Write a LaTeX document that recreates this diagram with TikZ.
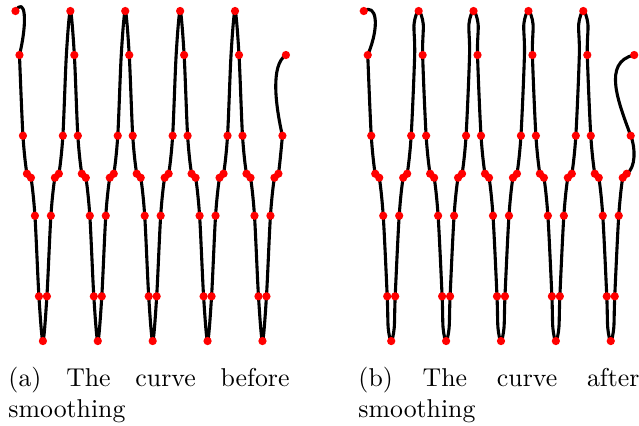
\documentclass[tikz,border=0pt]{standalone}

\begin{document}
\begin{tikzpicture}[x=0.3868pt,y=-0.3876pt,
  curve/.style={line width=1.2pt,line join=round},
  dot/.style={fill=red},
  subcap/.style={anchor=north west,inner sep=0pt,text width=108.9pt,align=justify}]
  \useasboundingbox (0,0) rectangle (640.3,425);
  % (a) before
  \draw[curve] (15.5,11) .. controls (25,-4) and (28,20) .. (19.5,55);
  \draw[curve] plot[smooth,tension=0.5] coordinates {(19.5,55) (23,135.7) (27,173.7) (31,177.7) (35,215.7) (39,296.3) (43,341) (47,296.3) (51,215.7) (55,177.7) (59,173.7) (63,135.7) (66.5,55) (70.5,11) (74.5,55)
    (78,135.7) (82,173.7) (86,177.7) (90,215.7) (94,296.3) (98,341) (102,296.3) (106,215.7) (110,177.7) (114,173.7) (118,135.7) (121.5,55) (125.5,11) (129.5,55)
    (133,135.7) (137,173.7) (141,177.7) (145,215.7) (149,296.3) (153,341) (157,296.3) (161,215.7) (165,177.7) (169,173.7) (173,135.7) (176.5,55) (180.5,11) (184.5,55)
    (188,135.7) (192,173.7) (196,177.7) (200,215.7) (204,296.3) (208,341) (212,296.3) (216,215.7) (220,177.7) (224,173.7) (228,135.7) (231.5,55) (235.5,11) (239.5,55)
    (243,135.7) (247,173.7) (251,177.7) (255,215.7) (259,296.3) (263,341) (267,296.3) (271,215.7) (275,177.7) (279,173.7) (283,135.7)};
  \draw[curve] (283,135.7) .. controls (276,105) and (271,65) .. (286.5,55);
  % (b) after
  \begin{scope}[shift={(349,0)}]
    \draw[curve] (15.5,11) .. controls (28,3) and (32,25) .. (19.5,55);
    \draw[curve] plot[smooth,tension=0.5] coordinates {(19.5,55) (23,135.7) (27,173.7) (31,177.7) (35,215.7) (39,296.3) (40,328) (43,341.5) (46,328) (47,296.3) (51,215.7) (55,177.7) (59,173.7) (63,135.7) (66.5,55) (65.9,24) (70.5,10.5) (75.1,24) (74.5,55)
      (78,135.7) (82,173.7) (86,177.7) (90,215.7) (94,296.3) (95,328) (98,341.5) (101,328) (102,296.3) (106,215.7) (110,177.7) (114,173.7) (118,135.7) (121.5,55) (120.9,24) (125.5,10.5) (130.1,24) (129.5,55)
      (133,135.7) (137,173.7) (141,177.7) (145,215.7) (149,296.3) (150,328) (153,341.5) (156,328) (157,296.3) (161,215.7) (165,177.7) (169,173.7) (173,135.7) (176.5,55) (175.9,24) (180.5,10.5) (185.1,24) (184.5,55)
      (188,135.7) (192,173.7) (196,177.7) (200,215.7) (204,296.3) (205,328) (208,341.5) (211,328) (212,296.3) (216,215.7) (220,177.7) (224,173.7) (228,135.7) (231.5,55) (230.9,24) (235.5,10.5) (240.1,24) (239.5,55)
      (243,135.7) (247,173.7) (251,177.7) (255,215.7) (259,296.3) (260,328) (263,341.5) (266,328) (267,296.3) (271,215.7) (275,177.7) (279,173.7)};
    \draw[curve] (279,173.7) .. controls (288,168) and (288,148) .. (283,135.7) .. controls (271,103) and (254,62) .. (286.5,55);
  \end{scope}
  % sample points
  \foreach \s in {0,349} {
    \foreach \b in {43,98,153,208,263}
      \foreach \dx/\y in {-27.5/11,-23.5/55,-20/135.7,-16/173.7,-12/177.7,-8/215.7,-4/296.3,0/341,4/296.3,8/215.7,12/177.7,16/173.7,20/135.7}
        \fill[dot] (\s+\b+\dx,\y) circle (1.6pt);
    \fill[dot] (\s+286.5,55) circle (1.6pt);
  }
  \node[subcap] (capA) at (8,367) {(a) The curve before smoothing};
  \node[subcap] (capB) at (358.7,367) {(b) The curve after smoothing};
\end{tikzpicture}
\end{document}
